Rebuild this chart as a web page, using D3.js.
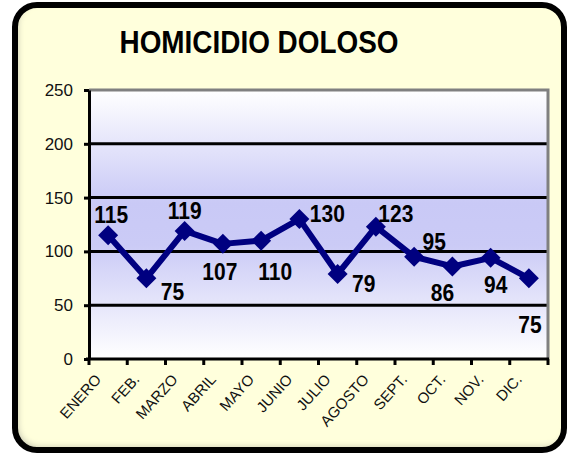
<!DOCTYPE html>
<html>
<head>
<meta charset="utf-8">
<script src="https://cdn.jsdelivr.net/npm/d3@7"></script>
<style>
  body { margin: 0; background: #fff; }
  svg { display: block; font-family: "Liberation Sans", Arial, sans-serif; }
</style>
</head>
<body>
<div id="chart"></div>
<script>
// data
var months = ["ENERO", "FEB.", "MARZO", "ABRIL", "MAYO", "JUNIO", "JULIO", "AGOSTO", "SEPT.", "OCT.", "NOV.", "DIC."];
var homicidios = [115, 75, 119, 107, 110, 130, 79, 123, 95, 86, 94, 75];
var yTicks = [0, 50, 100, 150, 200, 250];
var chartTitle = "HOMICIDIO DOLOSO";

// label placement (dx, dy from the point), hand placed like the original
var labelOffsets = [[3, -12], [26, 22], [0, -12], [-3, 36], [14, 39], [28, 3],
                    [26, 18], [20, -5], [20, -7], [-10, 35], [5, 35], [1, 55]];

var W = 568, H = 457;
var plot = {left: 89, right: 548, top: 90, bottom: 359};

var svg = d3.select("#chart").append("svg")
    .attr("width", W)
    .attr("height", H);

var defs = svg.append("defs");
var grad = defs.append("linearGradient")
    .attr("id", "plotGrad")
    .attr("x1", 0).attr("y1", 0).attr("x2", 0).attr("y2", 1);
grad.append("stop").attr("offset", "0%").attr("stop-color", "#ffffff");
grad.append("stop").attr("offset", "42%").attr("stop-color", "#c9c9f6");
grad.append("stop").attr("offset", "58%").attr("stop-color", "#cbcbf6");
grad.append("stop").attr("offset", "100%").attr("stop-color", "#ffffff");

var inner = defs.append("filter").attr("id", "innerShadow");
inner.append("feGaussianBlur").attr("in", "SourceAlpha").attr("stdDeviation", 3).attr("result", "b");
inner.append("feOffset").attr("dx", 3).attr("dy", -3).attr("result", "o");
inner.append("feComposite").attr("in", "SourceAlpha").attr("in2", "o").attr("operator", "out").attr("result", "s");
inner.append("feFlood").attr("flood-color", "#888").attr("flood-opacity", 0.6);
inner.append("feComposite").attr("in2", "s").attr("operator", "in").attr("result", "sh");
var merge = inner.append("feMerge");
merge.append("feMergeNode").attr("in", "SourceGraphic");
merge.append("feMergeNode").attr("in", "sh");

// outer frame
svg.append("rect")
    .attr("x", 15).attr("y", 5)
    .attr("width", 549).attr("height", 445)
    .attr("rx", 22).attr("ry", 22)
    .attr("fill", "#ffffdc")
    .attr("filter", "url(#innerShadow)");
svg.append("rect")
    .attr("x", 15).attr("y", 5)
    .attr("width", 549).attr("height", 445)
    .attr("rx", 22).attr("ry", 22)
    .attr("fill", "none")
    .attr("stroke", "#000")
    .attr("stroke-width", 6);

// title
svg.append("text")
    .attr("transform", "translate(259,53) scale(0.93,1.05)")
    .attr("text-anchor", "middle")
    .attr("font-size", 30)
    .attr("font-weight", "bold")
    .attr("fill", "#000")
    .text(chartTitle);

var x = d3.scalePoint()
    .domain(months)
    .range([plot.left, plot.right])
    .padding(0.5);
var step = x.step();

var y = d3.scaleLinear()
    .domain([0, 250])
    .range([plot.bottom, plot.top]);

// plot background
svg.append("rect")
    .attr("x", plot.left).attr("y", plot.top)
    .attr("width", plot.right - plot.left)
    .attr("height", plot.bottom - plot.top)
    .attr("fill", "url(#plotGrad)");

// gridlines
svg.append("g").selectAll("line")
    .data(yTicks.filter(function(d) { return d > 0 && d < 250; }))
    .enter().append("line")
    .attr("x1", plot.left).attr("x2", plot.right)
    .attr("y1", function(d) { return y(d); })
    .attr("y2", function(d) { return y(d); })
    .attr("stroke", "#000")
    .attr("stroke-width", 3);

// gray border top / right
svg.append("path")
    .attr("d", "M" + plot.left + "," + y(250) + "H" + plot.right + "V" + plot.bottom)
    .attr("fill", "none")
    .attr("stroke", "#808080")
    .attr("stroke-width", 3);

// y axis
var yAxis = svg.append("g")
    .attr("transform", "translate(" + plot.left + ",0)")
    .call(d3.axisLeft(y).tickValues(yTicks).tickSize(5).tickSizeOuter(0).tickPadding(11));
yAxis.select(".domain").attr("stroke", "#000").attr("stroke-width", 3);
yAxis.selectAll(".tick line").attr("stroke", "#000").attr("stroke-width", 3);
yAxis.selectAll(".tick text")
    .attr("font-size", 17)
    .attr("font-family", "Liberation Sans, Arial, sans-serif")
    .attr("fill", "#111");

// x axis: ticks at category boundaries
var bounds = months.map(function(m) { return x(m) - step / 2; }).concat([plot.right]);
svg.append("line")
    .attr("x1", plot.left - 3).attr("x2", plot.right + 1)
    .attr("y1", plot.bottom).attr("y2", plot.bottom)
    .attr("stroke", "#000").attr("stroke-width", 3);
svg.append("g").selectAll("line")
    .data(bounds)
    .enter().append("line")
    .attr("x1", function(d) { return d; })
    .attr("x2", function(d) { return d; })
    .attr("y1", plot.bottom).attr("y2", plot.bottom + 6)
    .attr("stroke", "#000").attr("stroke-width", 3);

svg.append("g").selectAll("text")
    .data(months)
    .enter().append("text")
    .attr("transform", function(d) { return "translate(" + (x(d) - 6) + "," + (plot.bottom + 21) + ") rotate(-48)"; })
    .attr("text-anchor", "end")
    .attr("font-size", 15)
    .attr("fill", "#111")
    .text(function(d) { return d; });

// series line
var line = d3.line()
    .x(function(d, i) { return x(months[i]); })
    .y(function(d) { return y(d); });

svg.append("path")
    .datum(homicidios)
    .attr("d", line)
    .attr("fill", "none")
    .attr("stroke", "#000080")
    .attr("stroke-width", 6)
    .attr("stroke-linejoin", "round");

svg.append("g").selectAll("path")
    .data(homicidios)
    .enter().append("path")
    .attr("d", d3.symbol().type(d3.symbolSquare).size(200))
    .attr("transform", function(d, i) { return "translate(" + x(months[i]) + "," + y(d) + ") rotate(45)"; })
    .attr("fill", "#000080");

// data labels
svg.append("g").selectAll("text")
    .data(homicidios)
    .enter().append("text")
    .attr("transform", function(d, i) {
        return "translate(" + (x(months[i]) + labelOffsets[i][0]) + "," + (y(d) + labelOffsets[i][1]) + ") scale(1,1.12)";
    })
    .attr("text-anchor", "middle")
    .attr("font-size", 21)
    .attr("font-weight", "bold")
    .attr("fill", "#000")
    .text(function(d) { return d; });
</script>
</body>
</html>
